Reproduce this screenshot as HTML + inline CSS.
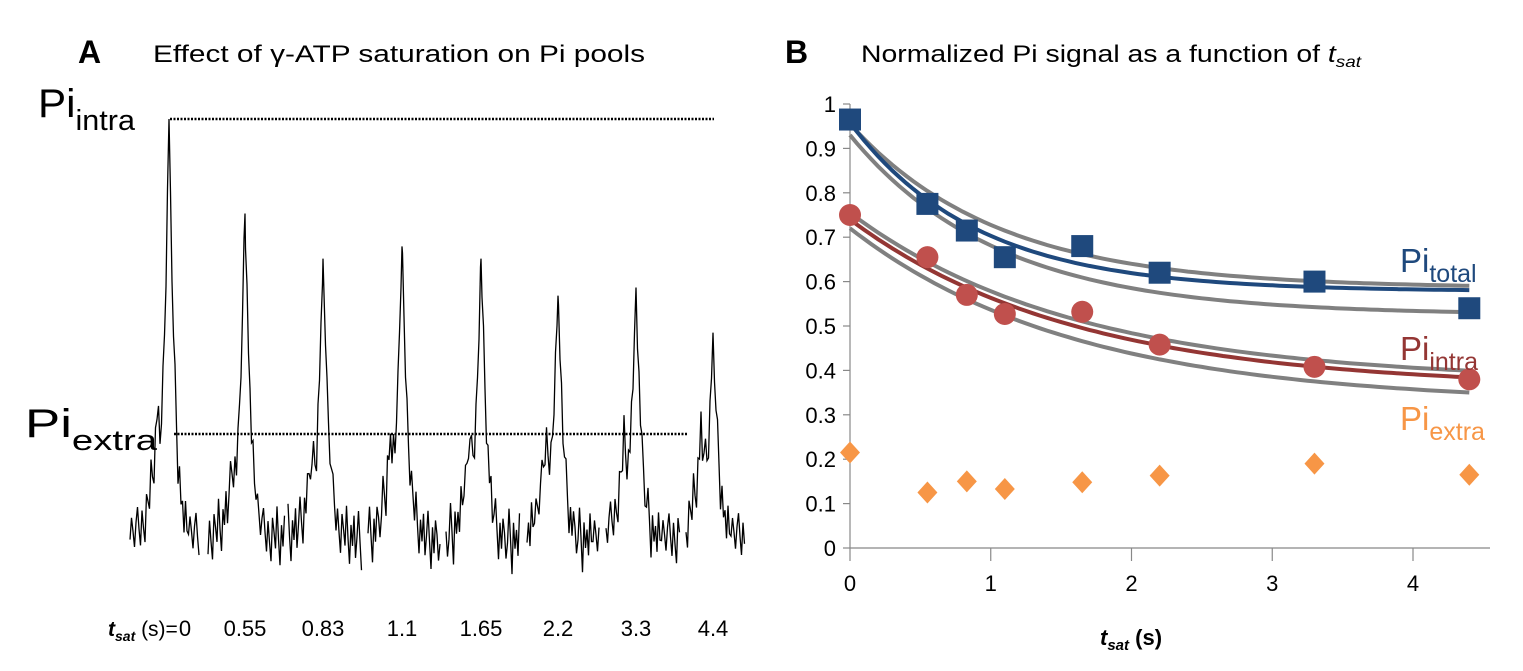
<!DOCTYPE html>
<html><head><meta charset="utf-8"><style>
html,body{margin:0;padding:0;background:#fff;}
svg{display:block;font-family:"Liberation Sans",sans-serif;}
</style></head><body>
<svg id="fig" width="1523" height="671" viewBox="0 0 1523 671">
<g id="panelA">
  <text x="78" y="63" font-size="32" font-weight="bold">A</text>
  <text x="153" y="62" font-size="24" textLength="492" lengthAdjust="spacingAndGlyphs">Effect of γ-ATP saturation on Pi pools</text>
  <text x="38" y="117" font-size="40" textLength="97" lengthAdjust="spacingAndGlyphs">Pi<tspan font-size="29" dy="13">intra</tspan></text>
  <text x="25" y="437" font-size="40" textLength="132" lengthAdjust="spacingAndGlyphs">Pi<tspan font-size="29" dy="13">extra</tspan></text>
  <line x1="170" y1="119" x2="714" y2="119" stroke="#000" stroke-width="2.5" stroke-dasharray="2,1.5"/>
  <line x1="174" y1="434" x2="688" y2="434" stroke="#000" stroke-width="2.5" stroke-dasharray="2,1.5"/>
  <g id="trace"></g>
  <text x="108" y="636" font-size="21"><tspan font-weight="bold" font-style="italic">t</tspan><tspan font-weight="bold" font-style="italic" font-size="14" dy="5">sat</tspan><tspan dy="-5"> (s)=</tspan></text>
  <g id="tsatLabels"></g>
</g>
<g id="panelB">
  <text x="785" y="63" font-size="32" font-weight="bold">B</text>
  <text x="861" y="62" font-size="24" textLength="500" lengthAdjust="spacingAndGlyphs">Normalized Pi signal as a function of <tspan font-style="italic">t</tspan><tspan font-style="italic" font-size="16" dy="5">sat</tspan></text>
  <g id="axes"></g>
  <g id="fits"></g>
  <g id="marks"></g>
  <text x="1400" y="272" font-size="33" fill="#1f497d">Pi<tspan font-size="25" dy="10">total</tspan></text>
  <text x="1400" y="360" font-size="33" fill="#943634">Pi<tspan font-size="25" dy="10">intra</tspan></text>
  <text x="1400" y="430" font-size="33" fill="#f79646">Pi<tspan font-size="25" dy="10">extra</tspan></text>
  <text x="1100" y="645" font-size="22" font-weight="bold"><tspan font-style="italic">t</tspan><tspan font-style="italic" font-size="15" dy="5">sat</tspan><tspan dy="-5"> (s)</tspan></text>
</g>
</svg>
<script>
// ---- Panel B data ----
const tsat = [0, 0.55, 0.83, 1.1, 1.65, 2.2, 3.3, 4.4];
const piTotal = [0.965, 0.775, 0.715, 0.655, 0.68, 0.62, 0.6, 0.54];
const piIntra = [0.75, 0.655, 0.57, 0.527, 0.532, 0.458, 0.408, 0.38];
const piExtra = [0.215, 0.125, 0.15, 0.133, 0.148, 0.163, 0.19, 0.165];
const yTicks = [0, 0.1, 0.2, 0.3, 0.4, 0.5, 0.6, 0.7, 0.8, 0.9, 1];
const yTickLabels = ["0","0.1","0.2","0.3","0.4","0.5","0.6","0.7","0.8","0.9","1"];
const xTicks = [0, 1, 2, 3, 4];
// fit curves: [asymptote, amplitude, tau]
const fitTotal = [0.578, 0.38, 0.9];
const fitTotalHi = [0.585, 0.37, 1.05];
const fitTotalLo = [0.525, 0.405, 1.05];
const fitIntra = [0.36, 0.38, 1.6];
const fitIntraHi = [0.375, 0.38, 1.6];
const fitIntraLo = [0.325, 0.395, 1.6];
// ---- Panel A data ----
const spectrumTimes = ["0","0.55","0.83","1.1","1.65","2.2","3.3","4.4"];
const peakHeights = [1.0, 0.77, 0.66, 0.69, 0.66, 0.57, 0.59, 0.48];
const shoulderHeights = [0.3, 0.18, 0.2, 0.25, 0.24, 0.26, 0.24, 0.28];
const noiseA = [10,-8,4,18,-2,-14,6,22,-6,12,28,-10,2,16,-20,8,30,-4,14,-12,24,6,-16,10,34,-2,20,-8,4,26,12,-18,8,38,-6,16,0,22,-14,10];

const NS = "http://www.w3.org/2000/svg";
function mk(tag, attrs, parent){const e=document.createElementNS(NS,tag);for(const k in attrs)e.setAttribute(k,attrs[k]);parent.appendChild(e);return e;}

const X0=850, XU=140.75, Y0=548, YU=444;
const xs = t => X0 + t*XU;
const ys = v => Y0 - v*YU;

const axes=document.getElementById('axes');
let ax=mk('line',{x1:X0,y1:ys(1),x2:X0,y2:Y0,stroke:'#888','stroke-width':1.2},axes);


ax=mk('line',{x1:X0,y1:Y0,x2:1490,y2:Y0,stroke:'#888','stroke-width':1.2},axes);


yTicks.forEach((v,i)=>{
  const tk=mk('line',{x1:X0-7,y1:ys(v),x2:X0,y2:ys(v),stroke:'#888','stroke-width':1.2},axes);
  
  
  const t=mk('text',{x:X0-14,y:ys(v)+8,'font-size':22,'text-anchor':'end'},axes);
  t.textContent=yTickLabels[i];
  
  
});
xTicks.forEach(v=>{
  const tk=mk('line',{x1:xs(v),y1:Y0,x2:xs(v),y2:Y0+13,stroke:'#888','stroke-width':1.2},axes);
  
  
  const t=mk('text',{x:xs(v),y:Y0+43,'font-size':22,'text-anchor':'middle'},axes);
  t.textContent=String(v);
  
  
});

function fitPath(p){let d='';for(let i=0;i<=88;i++){const t=i*0.05;const v=p[0]+p[1]*Math.exp(-t/p[2]);d+=(i?'L':'M')+xs(t).toFixed(1)+','+ys(v).toFixed(1);}return d;}
const fits=document.getElementById('fits');
[[fitTotalHi,'#808080','fit-total-upper'],[fitTotalLo,'#808080','fit-total-lower'],[fitIntraHi,'#808080','fit-intra-upper'],[fitIntraLo,'#808080','fit-intra-lower'],[fitTotal,'#1f497d','fit-total'],[fitIntra,'#943634','fit-intra']].forEach(f=>{
  const p=mk('path',{d:fitPath(f[0]),fill:'none',stroke:f[1],'stroke-width':4},fits);
  
  
});
const marks=document.getElementById('marks');
tsat.forEach((t,i)=>{
  const sq=mk('rect',{x:xs(t)-11,y:ys(piTotal[i])-11,width:22,height:22,fill:'#1f497d'},marks);
  
  
  const c=mk('circle',{cx:xs(t),cy:ys(piIntra[i]),r:11,fill:'#c0504d'},marks);
  
  
  const x=xs(t),y=ys(piExtra[i]);
  const dm=mk('polygon',{points:`${x},${y-11} ${x+10},${y} ${x},${y+11} ${x-10},${y}`,fill:'#f79646'},marks);
  
  
});

// ---- Panel A trace ----
const peakX = [169,245,323,402,481,558,636,713];
const segStart=[130,208,288,368,446,527,606,686], segEnd=[200,285,362,440,520,600,680,745];
const BASE=530, TOPY=119, EXTRAY=434;
const trace=document.getElementById('trace');
const lbl=document.getElementById('tsatLabels');
peakHeights.forEach((h,i)=>{
  let d='';
  const pkY = BASE - (BASE-TOPY)*h;
  let k=0;
  const xsList=[];
  for(let x=segStart[i];x<=segEnd[i];x+=1.5) xsList.push(x);
  xsList.push(peakX[i]);
  xsList.sort((a,b)=>a-b);
  xsList.forEach(x=>{
    const dx=x-peakX[i];
    let y;
    if(dx===0){ y=pkY; }
    else{
      const n=noiseA[(k+i*7)%noiseA.length]*1.2;
      const damp=Math.exp(-Math.abs(dx)/10);
      y=BASE+n*(1-0.6*damp);
      const pk=(BASE-pkY)*Math.exp(-Math.pow(Math.abs(dx)/6,1.2));
      const sh=(BASE-EXTRAY)*shoulderHeights[i]*4*Math.exp(-Math.abs(dx+12)/7);
      y=y-Math.max(pk,sh*0.9+pk*0.5);
    }
    k++;
    d+=(d?'L':'M')+x.toFixed(1)+','+y.toFixed(1);
  });
  const p=mk('path',{d:d,fill:'none',stroke:'#000','stroke-width':1.3},trace);
  
  
  const t=mk('text',{x:(i==0?185:peakX[i]),y:636,'font-size':22,'text-anchor':'middle'},lbl);
  t.textContent=spectrumTimes[i];
  
  
});
</script>
</body></html>
